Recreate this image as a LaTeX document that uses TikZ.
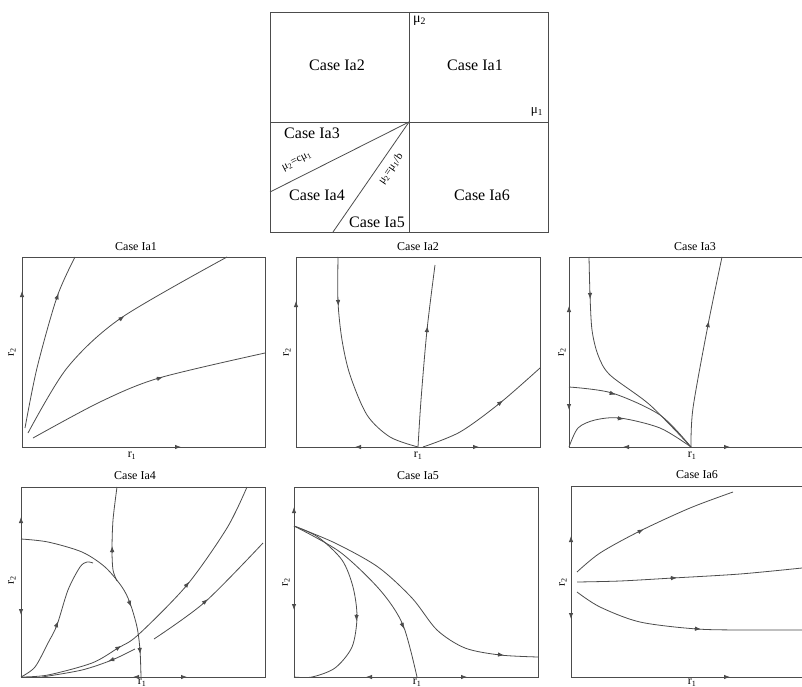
\documentclass[tikz,border=0pt]{standalone}
\usepackage{fontspec}
\setmainfont{Liberation Serif}
\usetikzlibrary{arrows.meta,calc}
\definecolor{ink}{gray}{0.3}
\tikzset{
  curve/.style={draw=ink, line width=0.8pt},
  boxline/.style={draw=ink, line width=0.8pt},
  tipmark/.style={draw=ink, line width=0.8pt, -{Latex[length=6pt,width=4.5pt]}},
  bigcase/.style={font=\fontsize{16}{18}\selectfont, text=black, inner sep=0pt},
  title/.style={font=\fontsize{12}{14}\selectfont, text=black, inner sep=0pt},
  axlab/.style={font=\fontsize{12}{14}\selectfont, text=black, inner sep=0pt},
  linelab/.style={font=\fontsize{11}{13}\selectfont, text=black, inner sep=0pt},
}
% arrow head at point #1, direction from #2 towards #3
\newcommand\flowtip[3]{\draw[tipmark] ($(#1)!3pt!(#2)$) -- ($(#1)!4pt!(#3)$);}
\begin{document}
\begin{tikzpicture}[x=1pt,y=-1pt]
\useasboundingbox (0,0) rectangle (802,687);
\fill[white] (0,0) rectangle (802,687);

% ---------------- top parameter diagram ----------------
\draw[boxline] (270,12) rectangle (548,232);
\coordinate (o) at (409,122);
\draw[boxline] (409,12) -- (409,232);
\draw[boxline] (270,122) -- (548,122);
\coordinate (cl) at (270,192);
\coordinate (bl) at (333,232);
\draw[boxline] (o) -- (cl);
\draw[boxline] (o) -- (bl);
\node[bigcase] (c2) at (337,65) {Case Ia2};
\node[bigcase] (c1) at (475,65) {Case Ia1};
\node[bigcase] (c3) at (312,133) {Case Ia3};
\node[bigcase] (c4) at (317,195) {Case Ia4};
\node[bigcase] (c5) at (377,222) {Case Ia5};
\node[bigcase] (c6) at (482,195) {Case Ia6};
\node[linelab, anchor=west] (m2) at (413,21) {\fontsize{14}{16}\selectfont μ\textsubscript{2}};
\node[linelab] (m1) at (537,112) {\fontsize{13}{15}\selectfont μ\textsubscript{1}};
\node[linelab, rotate=26.7] (lc) at (297,162) {μ\textsubscript{2}=cμ\textsubscript{1}};
\node[linelab, rotate=55] (lb) at (391,169) {μ\textsubscript{2}=μ\textsubscript{1}/b};

% ---------------- Case Ia1 ----------------
\draw[boxline] (22,257) rectangle (265,447);
\node[title] (t1) at (136,247) {Case Ia1};
\node[axlab] (x1) at (132,456) {r\textsubscript{1}};
\node[axlab, rotate=90] (y1) at (12,352) {r\textsubscript{2}};
\draw[curve] plot[smooth] coordinates {(25,428) (37,368) (57,297) (75,257)};
\draw[curve] plot[smooth] coordinates {(28,433) (67,368) (121,318) (227,257)};
\draw[curve] plot[smooth] coordinates {(33,438) (100,402) (159,378) (265,353)};
\flowtip{57,297}{37,368}{75,257}
\flowtip{121,318}{67,368}{227,257}
\flowtip{159,378}{100,402}{265,353}
\draw[tipmark] (22,298) -- (22,291);
\draw[tipmark] (174,447) -- (181,447);

% ---------------- Case Ia2 ----------------
\draw[boxline] (296,257) rectangle (540,447);
\node[title] (t2) at (418,247) {Case Ia2};
\node[axlab] (x2) at (418,456) {r\textsubscript{1}};
\node[axlab, rotate=90] (y2) at (287,352) {r\textsubscript{2}};
\draw[curve] plot[smooth] coordinates {(338,257) (338,302) (342,340) (350,375) (367,415) (390,437) (418,447)};
\draw[curve] plot[smooth] coordinates {(418,447) (421,400) (427,330) (435,265)};
\draw[curve] plot[smooth] coordinates {(423,447) (460,432) (500,403) (540,368)};
\flowtip{338,302}{338,257}{342,340}
\flowtip{427,330}{421,400}{435,265}
\flowtip{500,403}{460,432}{540,368}
\draw[tipmark] (296,308) -- (296,301);
\draw[tipmark] (362,447) -- (355,447);
\draw[tipmark] (472,447) -- (479,447);

% ---------------- Case Ia3 ----------------
\draw[boxline] (802,257) -- (569,257) -- (569,447) -- (802,447);
\node[title] (t3) at (695,247) {Case Ia3};
\node[axlab] (x3) at (692,456) {r\textsubscript{1}};
\node[axlab, rotate=90] (y3) at (562,352) {r\textsubscript{2}};
\draw[curve] plot[smooth] coordinates {(589,257) (590,295) (592,330) (598,355) (610,375) (650,405) (691,447)};
\draw[curve] plot[smooth] coordinates {(569,387) (612,393) (660,415) (691,447)};
\draw[curve] plot[smooth] coordinates {(569,447) (578,428) (595,420) (620,418) (660,428) (691,447)};
\draw[curve] plot[smooth] coordinates {(691,447) (693,408) (708,325) (722,257)};
\flowtip{590,295}{589,257}{592,330}
\flowtip{612,393}{569,387}{660,415}
\flowtip{620,418}{595,420}{660,428}
\flowtip{708,325}{693,408}{722,257}
\draw[tipmark] (569,313) -- (569,306);
\draw[tipmark] (569,403) -- (569,410);
\draw[tipmark] (630,447) -- (623,447);
\draw[tipmark] (723,447) -- (730,447);

% ---------------- Case Ia4 ----------------
\draw[boxline] (21,487) rectangle (265,677);
\node[title] (t4) at (135,476) {Case Ia4};
\node[axlab] (x4) at (142,683) {r\textsubscript{1}};
\node[axlab, rotate=90] (y4) at (12,580) {r\textsubscript{2}};
\draw[curve] plot[smooth] coordinates {(21,539) (48,542) (82,552) (105,567) (122,587) (130,603) (137,627) (140,650) (141,677)};
\draw[curve] plot[smooth] coordinates {(117,581) (113,570) (112,550) (113,520) (117,487)};
\draw[curve] plot[smooth] coordinates {(21,677) (35,667) (48,643) (57,625) (68,590) (80,567) (87,562) (93,563)};
\draw[curve] plot[smooth] coordinates {(21,677) (48,675) (92,663) (118,648) (138,635) (187,585) (227,528) (247,487)};
\draw[curve] plot[smooth] coordinates {(135,649) (112,660) (82,670) (42,677)};
\draw[curve] plot[smooth] coordinates {(154,639) (205,602) (263,543)};
\flowtip{130,603}{122,587}{137,627}
\flowtip{140,650}{137,627}{141,677}
\flowtip{112,550}{113,570}{113,520}
\flowtip{57,625}{48,643}{68,590}
\flowtip{118,648}{92,663}{138,635}
\flowtip{187,585}{138,635}{227,528}
\flowtip{112,660}{135,649}{82,670}
\flowtip{205,602}{154,639}{263,543}
\draw[tipmark] (21,524) -- (21,517);
\draw[tipmark] (21,608) -- (21,615);
\draw[tipmark] (140,677) -- (133,677);
\draw[tipmark] (180,677) -- (187,677);

% ---------------- Case Ia5 ----------------
\draw[boxline] (294,487) rectangle (538,677);
\node[title] (t5) at (418,476) {Case Ia5};
\node[axlab] (x5) at (417,683) {r\textsubscript{1}};
\node[axlab, rotate=90] (y5) at (286,582) {r\textsubscript{2}};
\draw[curve] plot[smooth] coordinates {(294,526) (318,537) (342,560) (353,587) (357,617) (352,647) (335,668) (312,677) (294,677)};
\draw[curve] plot[smooth] coordinates {(294,526) (340,552) (380,590) (403,625) (417,677)};
\draw[curve] plot[smooth] coordinates {(294,526) (335,543) (378,567) (412,598) (437,630) (465,648) (500,655) (538,657)};
\flowtip{357,617}{353,587}{352,647}
\flowtip{403,625}{380,590}{417,677}
\flowtip{500,655}{465,648}{538,657}
\draw[tipmark] (294,514) -- (294,507);
\draw[tipmark] (294,603) -- (294,610);
\draw[tipmark] (373,677) -- (366,677);
\draw[tipmark] (460,677) -- (467,677);

% ---------------- Case Ia6 ----------------
\draw[boxline] (802,486) -- (571,486) -- (571,677) -- (802,677);
\node[title] (t6) at (697,475) {Case Ia6};
\node[axlab] (x6) at (692,683) {r\textsubscript{1}};
\node[axlab, rotate=90] (y6) at (563,582) {r\textsubscript{2}};
\draw[curve] plot[smooth] coordinates {(577,572) (600,553) (640,531) (690,508) (733,492)};
\draw[curve] plot[smooth] coordinates {(577,582) (620,581) (673,578) (740,574) (802,568)};
\draw[curve] plot[smooth] coordinates {(577,592) (600,607) (640,622) (697,629) (750,630) (802,630)};
\flowtip{640,531}{600,553}{690,508}
\flowtip{673,578}{620,581}{740,574}
\flowtip{697,629}{640,622}{750,630}
\draw[tipmark] (571,543) -- (571,536);
\draw[tipmark] (571,612) -- (571,619);
\draw[tipmark] (723,677) -- (730,677);
\end{tikzpicture}
\end{document}
